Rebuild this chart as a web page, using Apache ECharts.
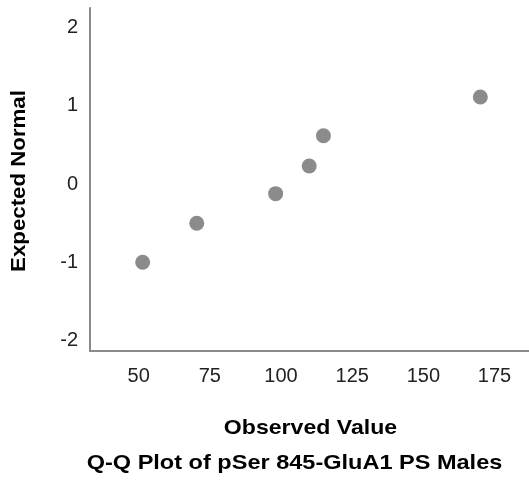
<!DOCTYPE html>
<html>
<head>
<meta charset="utf-8">
<script src="https://cdn.jsdelivr.net/npm/echarts@6/dist/echarts.min.js"></script>
<style>
  html, body { margin: 0; padding: 0; background: #fff; }
  #chart { width: 529px; height: 480px; }
</style>
</head>
<body>
<div id="chart"></div>
<script>
// Observed values and their expected normal quantiles
const observed = [51.4, 70.4, 98.1, 109.9, 114.9, 170.0];
const expectedNormal = [-1.004, -0.504, -0.124, 0.231, 0.619, 1.115];

// Tick labels shown on each axis
const xTicks = [50, 75, 100, 125, 150, 175];
const yTicks = [-2, -1, 0, 1, 2];

const chartTitle = 'Q-Q Plot of pSer 845-GluA1 PS Males';
const xTitle = 'Observed Value';
const yTitle = 'Expected Normal';

const FONT = 'Arial, "Liberation Sans", sans-serif';
const BOLD = 'bold 21px ' + FONT;

const points = observed.map((v, i) => [v, expectedNormal[i]]);

const chart = echarts.init(document.getElementById('chart'), null, { renderer: 'canvas' });
chart.setOption({
  animation: false,
  backgroundColor: '#ffffff',
  grid: { left: 90, top: 8, right: 0, bottom: 129, containLabel: false, outerBoundsMode: 'none' },
  xAxis: {
    type: 'value',
    min: 32.9,
    max: 187.1,
    axisLine: { show: true, onZero: false, lineStyle: { color: '#8a8a8a', width: 2 } },
    axisTick: { show: false },
    splitLine: { show: false },
    axisLabel: {
      customValues: xTicks,
      margin: 15,
      fontFamily: FONT, fontSize: 20, color: '#222'
    }
  },
  yAxis: {
    type: 'value',
    min: -2.141,
    max: 2.256,
    axisLine: { show: true, onZero: false, lineStyle: { color: '#8a8a8a', width: 2 } },
    axisTick: { show: false },
    splitLine: { show: false },
    axisLabel: {
      customValues: yTicks,
      margin: 12,
      fontFamily: FONT, fontSize: 20, color: '#222'
    }
  },
  // Axis titles and chart caption, slightly widened bold text
  graphic: [
    {
      type: 'text', x: 310.5, y: 428, scaleX: 1.1,
      style: { text: xTitle, font: BOLD, fill: '#000', align: 'center', verticalAlign: 'middle' }
    },
    {
      type: 'text', x: 19, y: 181, rotation: Math.PI / 2, scaleX: 1.06,
      style: { text: yTitle, font: BOLD, fill: '#000', align: 'center', verticalAlign: 'middle' }
    },
    {
      type: 'text', x: 294.5, y: 463, scaleX: 1.12,
      style: { text: chartTitle, font: BOLD, fill: '#000', align: 'center', verticalAlign: 'middle' }
    }
  ],
  series: [{
    type: 'scatter',
    data: points,
    symbol: 'circle',
    symbolSize: 15,
    itemStyle: { color: '#6e6e6e' }
  }]
});
</script>
</body>
</html>
